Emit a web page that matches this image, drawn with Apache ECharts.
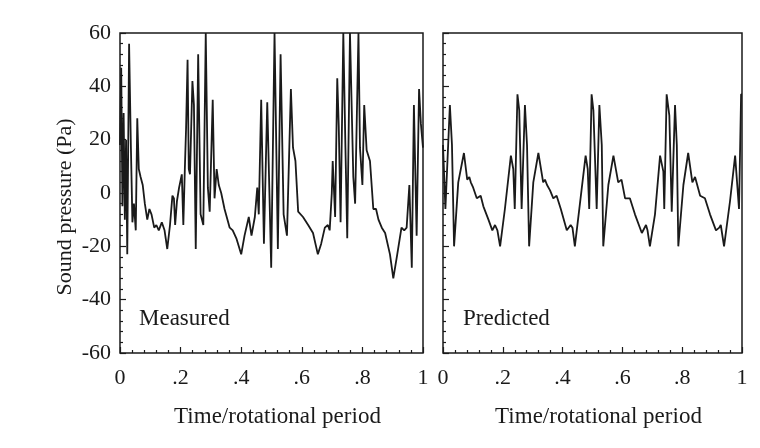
<!doctype html>
<html>
<head>
  <meta charset="UTF-8">
  <title>Sound pressure</title>
  <script src="https://cdn.jsdelivr.net/npm/echarts@6/dist/echarts.min.js"></script>
  <style>
    * { margin: 0; padding: 0; }
    body { background: #fff; }
    #chart { width: 760px; height: 448px; }
  </style>
</head>
<body>
<div id="chart"></div>
<script>
  // time / rotational period and sound pressure (Pa)
  const measuredT = [0.000, 0.004, 0.008, 0.012, 0.016, 0.020, 0.024, 0.030, 0.036, 0.041, 0.046, 0.052, 0.057,
    0.062, 0.068, 0.075, 0.082, 0.090, 0.097, 0.104, 0.113, 0.120, 0.128, 0.138, 0.147, 0.156, 0.165, 0.173,
    0.178, 0.182, 0.188, 0.195, 0.204, 0.209, 0.214, 0.218, 0.223, 0.227, 0.231, 0.239, 0.244, 0.250, 0.258,
    0.266, 0.275, 0.283, 0.290, 0.296, 0.306, 0.312, 0.319, 0.326, 0.334, 0.345, 0.362, 0.372, 0.384, 0.400,
    0.411, 0.425, 0.434, 0.445, 0.453, 0.458, 0.466, 0.475, 0.486, 0.499, 0.510, 0.521, 0.530, 0.540, 0.551,
    0.564, 0.571, 0.579, 0.588, 0.604, 0.621, 0.637, 0.653, 0.664, 0.676, 0.686, 0.692, 0.699, 0.702, 0.710,
    0.717, 0.722, 0.728, 0.737, 0.744, 0.750, 0.759, 0.770, 0.776, 0.787, 0.792, 0.800, 0.806, 0.814, 0.825,
    0.836, 0.845, 0.853, 0.864, 0.875, 0.891, 0.902, 0.915, 0.929, 0.938, 0.946, 0.955, 0.963, 0.970, 0.979,
    0.987, 0.993, 1.000]
  const measuredP = [18, 47, -5, 30, -10, 20, -23, 56, 17, -11, -4, -14, 28,
    9, 6, 3, -4, -10, -6, -8, -13, -12, -14, -11, -14, -21, -12, -1,
    -2, -12, -3, 2, 7, -12, 9, 24, 50, 9, 7, 42, 33, -21, 52,
    -8, -12, 60, 2, -7, 35, -2, 9, 3, 0, -6, -13, -14, -17, -23,
    -16, -9, -16, -9, 2, -8, 35, -19, 34, -28, 60, -21, 52, -8, -16,
    39, 17, 12, -7, -9, -12, -15, -23, -19, -13, -12, -14, 0, 12, -9,
    43, 25, -11, 60, 17, -17, 60, 6, -4, 60, 17, 3, 33, 16, 12,
    -6, -6, -10, -13, -15, -23, -32, -23, -13, -14, -13, 3, -28, 33, -16,
    39, 26, 17]

  const predictedT = [0.000, 0.008, 0.023, 0.030, 0.037, 0.051, 0.070, 0.081, 0.088, 0.093, 0.101, 0.113, 0.126,
    0.135, 0.152, 0.165, 0.174, 0.182, 0.191, 0.207, 0.227, 0.235, 0.240, 0.249, 0.255, 0.263, 0.274, 0.281,
    0.288, 0.302, 0.319, 0.335, 0.341, 0.348, 0.358, 0.369, 0.380, 0.394, 0.414, 0.427, 0.433, 0.441, 0.458,
    0.477, 0.484, 0.489, 0.497, 0.503, 0.514, 0.523, 0.531, 0.536, 0.553, 0.570, 0.586, 0.597, 0.609, 0.625,
    0.642, 0.665, 0.679, 0.684, 0.692, 0.709, 0.726, 0.737, 0.740, 0.748, 0.757, 0.765, 0.776, 0.782, 0.787,
    0.804, 0.820, 0.834, 0.843, 0.860, 0.876, 0.893, 0.913, 0.924, 0.929, 0.940, 0.960, 0.977, 0.990, 0.997,
    1.000]
  const predictedP = [18, -6, 33, 18, -20, 4, 15, 5, 6, 4, 2, -2, -1,
    -5, -10, -14, -12, -14, -20, -6, 14, 9, -6, 37, 31, -6, 33, 18,
    -20, 4, 15, 4, 5, 3, 1, -2, -1, -6, -14, -12, -13, -20, -4,
    14, 9, -6, 37, 31, -6, 33, 18, -20, 3, 14, 4, 5, -2, -2,
    -8, -15, -12, -14, -20, -8, 14, 8, -6, 37, 29, -7, 33, 18, -20,
    3, 15, 4, 6, -1, -2, -8, -14, -13, -12, -20, -3, 14, -6, 37,
    37]

  const yTicks = [-60, -40, -20, 0, 20, 40, 60]
  const xTicks = [0, 0.2, 0.4, 0.6, 0.8, 1]

  const ink = '#1a1a1a'
  const font = '"Liberation Serif", "DejaVu Serif", serif'

  function pairs(ts, ps) {
    return ts.map((t, i) => [t, ps[i]])
  }

  function xAxisFor(gi) {
    return {
      type: 'value', gridIndex: gi, min: xTicks[0], max: xTicks[xTicks.length - 1], interval: 0.2,
      name: 'Time/rotational period', nameLocation: 'middle', nameGap: 52,
      nameTextStyle: { fontFamily: font, fontSize: 23, color: ink, padding: [0, 0, 0, 12] },
      axisLine: { show: false, onZero: false },
      axisTick: { show: true, inside: true, length: 6, lineStyle: { color: ink, width: 1.2 } },
      minorTick: { show: true, splitNumber: 5, length: 3, lineStyle: { color: ink, width: 1.2 } },
      splitLine: { show: false },
      axisLabel: {
        margin: 14, fontFamily: font, fontSize: 22, color: ink,
        formatter: v => v === 0 ? '0' : v === 1 ? '1' : String(v).replace(/^0/, '')
      }
    }
  }

  function yAxisFor(gi, labels) {
    return {
      type: 'value', gridIndex: gi, min: yTicks[0], max: yTicks[yTicks.length - 1], interval: 20,
      name: labels ? 'Sound pressure (Pa)' : '', nameLocation: 'middle', nameGap: 44,
      nameTextStyle: { fontFamily: font, fontSize: 22, color: ink, padding: [0, 28, 0, 0] },
      axisLine: { show: false, onZero: false },
      axisTick: { show: true, inside: true, length: 6, lineStyle: { color: ink, width: 1.2 } },
      minorTick: { show: true, splitNumber: 5, length: 3, lineStyle: { color: ink, width: 1.2 } },
      splitLine: { show: false },
      axisLabel: { show: labels, margin: 9, fontFamily: font, fontSize: 22, color: ink }
    }
  }

  const chart = echarts.init(document.getElementById('chart'), null, { renderer: 'canvas' })

  chart.setOption({
    animation: false,
    backgroundColor: '#fff',
    title: [
      { text: 'Measured', left: 134, top: 302, textStyle: { fontFamily: font, fontSize: 23, fontWeight: 'normal', color: ink } },
      { text: 'Predicted', left: 458, top: 302, textStyle: { fontFamily: font, fontSize: 23, fontWeight: 'normal', color: ink } }
    ],
    grid: [
      { left: 120, top: 33, width: 303, height: 320, show: true, borderColor: ink, borderWidth: 1.5, backgroundColor: 'transparent' },
      { left: 443, top: 33, width: 299, height: 320, show: true, borderColor: ink, borderWidth: 1.5, backgroundColor: 'transparent' }
    ],
    xAxis: [xAxisFor(0), xAxisFor(1)],
    yAxis: [yAxisFor(0, true), yAxisFor(1, false)],
    series: [
      {
        type: 'line', xAxisIndex: 0, yAxisIndex: 0, data: pairs(measuredT, measuredP),
        showSymbol: false, clip: true, lineStyle: { color: ink, width: 1.8 }
      },
      {
        type: 'line', xAxisIndex: 1, yAxisIndex: 1, data: pairs(predictedT, predictedP),
        showSymbol: false, clip: true, lineStyle: { color: ink, width: 1.8 }
      }
    ]
  })
</script>
</body>
</html>
